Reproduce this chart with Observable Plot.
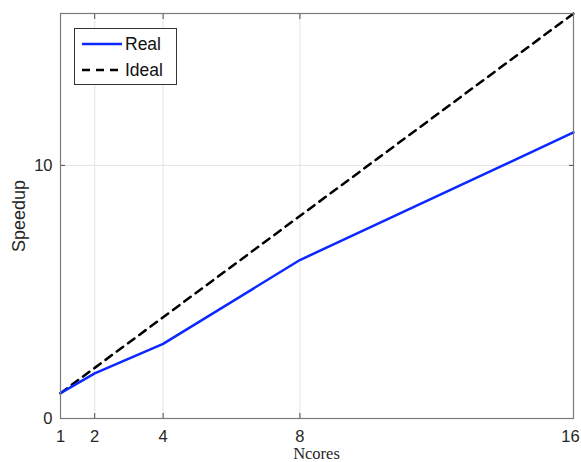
<!DOCTYPE html>
<html><head><meta charset="utf-8">
<script src="https://cdn.jsdelivr.net/npm/d3@7"></script>
<script src="https://cdn.jsdelivr.net/npm/@observablehq/plot@0.6"></script>
<style>body{margin:0;background:#fff} #c{position:relative;width:581px;height:462px}</style>
</head><body><div id="c"></div>
<script>
const ncores = [1, 2, 4, 8, 16];
const realSpeedup = [1, 1.78, 2.95, 6.26, 11.3];
const idealSpeedup = [1, 2, 4, 8, 16];
const xTicks = [1, 2, 4, 8, 16];
const yTicks = [0, 10];
const seriesNames = ["Real", "Ideal"];

const real = ncores.map((x, i) => ({x, y: realSpeedup[i]}));
const ideal = ncores.map((x, i) => ({x, y: idealSpeedup[i]}));
const axisColor = "#4d4d4d";
const font = "Liberation Sans, Arial, sans-serif";

const chart = Plot.plot({
  width: 581, height: 462,
  marginLeft: 60, marginRight: 8, marginTop: 13, marginBottom: 44,
  style: {fontFamily: font, fontSize: "16.5px", color: "#262626", background: "#fff"},
  x: {domain: [1, 16], ticks: xTicks, label: null},
  y: {domain: [0, 16], ticks: yTicks, label: null},
  marks: [
    Plot.ruleX(xTicks, {stroke: "#e3e3e3", strokeWidth: 1}),
    Plot.ruleY(yTicks, {stroke: "#e3e3e3", strokeWidth: 1}),
    Plot.axisX(xTicks, {tickSize: -5, text: null, stroke: axisColor}),
    Plot.axisX(xTicks, {anchor: "top", tickSize: -5, text: null, stroke: axisColor}),
    Plot.axisY(yTicks, {tickSize: -5, text: null, stroke: axisColor}),
    Plot.axisY(yTicks, {anchor: "right", tickSize: -5, text: null, stroke: axisColor}),
    Plot.axisX(xTicks.slice(0, -1), {tickSize: 0, tickPadding: 12, fontSize: 16.5, fill: "#262626"}),
    Plot.axisX(xTicks.slice(-1), {tickSize: 0, tickPadding: 12, dx: -3, fontSize: 16.5, fill: "#262626"}),
    Plot.axisY(yTicks, {tickSize: 0, tickPadding: 8, fontSize: 16.5, fill: "#262626"}),
    Plot.line(ideal, {x: "x", y: "y", stroke: "#000", strokeWidth: 2.5, strokeDasharray: "8,6"}),
    Plot.line(real, {x: "x", y: "y", stroke: "#0a28ff", strokeWidth: 2.5}),
    Plot.frame({stroke: "#7a7a7a", strokeWidth: 1.2})
  ]
});
document.getElementById("c").appendChild(chart);

const svg = d3.select(chart);
// axis titles
svg.append("text").attr("x", 316.5).attr("y", 459).attr("text-anchor", "middle")
  .attr("font-family", "Liberation Serif, Times New Roman, serif").attr("font-size", 16.5)
  .attr("fill", "#262626").text("Ncores");
svg.append("text").attr("transform", "translate(25,216) rotate(-90)").attr("text-anchor", "middle")
  .attr("font-family", font).attr("font-size", 18).attr("fill", "#262626").text("Speedup");
// legend
const lg = svg.append("g");
lg.append("rect").attr("x", 74.5).attr("y", 28.5).attr("width", 102).attr("height", 56)
  .attr("fill", "#fff").attr("stroke", "#333").attr("stroke-width", 1);
const styles = [{stroke: "#0a28ff", dash: null}, {stroke: "#000", dash: "8,6"}];
seriesNames.forEach((name, i) => {
  const y = 44 + i * 26;
  lg.append("line").attr("x1", 82).attr("x2", 122).attr("y1", y).attr("y2", y)
    .attr("stroke", styles[i].stroke).attr("stroke-width", 2.5)
    .attr("stroke-dasharray", styles[i].dash);
  lg.append("text").attr("x", 125).attr("y", y).attr("dy", "0.35em").attr("text-anchor", "start")
    .attr("font-family", font).attr("font-size", 17.5).attr("fill", "#111").text(name);
});
</script>
</body></html>
